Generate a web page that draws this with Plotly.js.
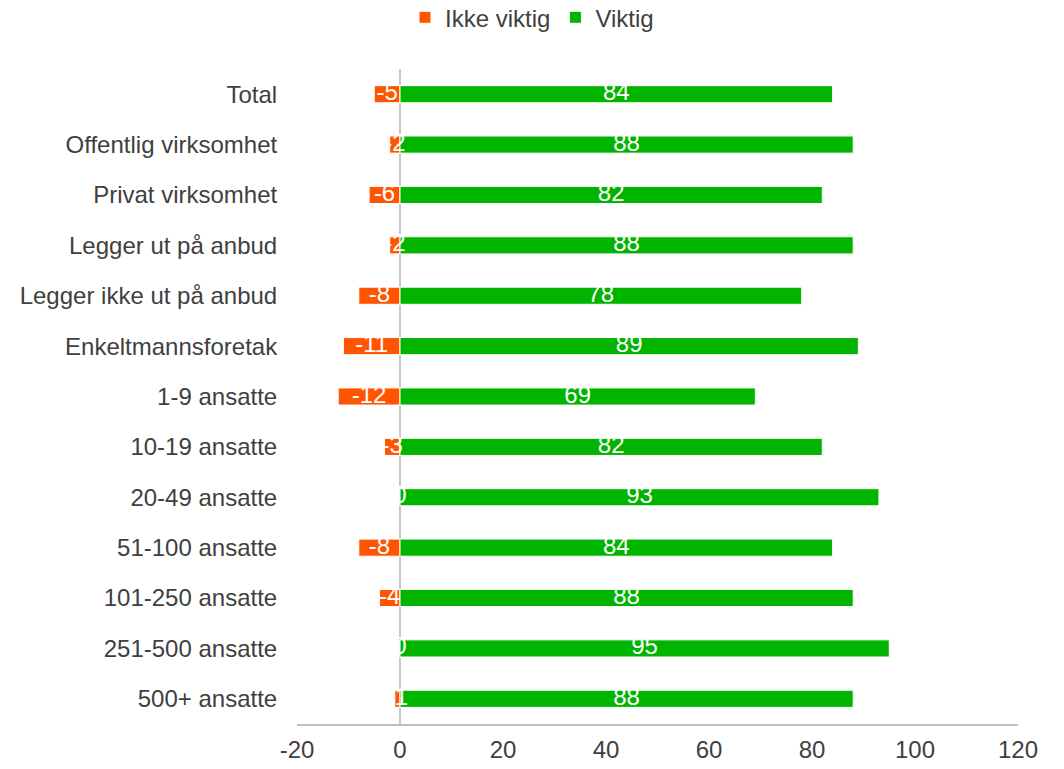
<!DOCTYPE html>
<html>
<head>
<meta charset="utf-8">
<script src="https://cdn.plot.ly/plotly-3.0.1.min.js"></script>
<style>html,body{margin:0;padding:0;background:#fff;}#chart{width:1064px;height:769px;}</style>
</head>
<body>
<div id="chart"></div>
<script>
const categories = ["Total","Offentlig virksomhet","Privat virksomhet","Legger ut på anbud","Legger ikke ut på anbud","Enkeltmannsforetak","1-9 ansatte","10-19 ansatte","20-49 ansatte","51-100 ansatte","101-250 ansatte","251-500 ansatte","500+ ansatte"];
const ikkeViktig = [-5,-2,-6,-2,-8,-11,-12,-3,0,-8,-4,0,-1];
const viktig = [84,88,82,88,78,89,69,82,93,84,88,95,88];
const xTicks = [-20,0,20,40,60,80,100,120];

const font = "Liberation Sans, Arial, sans-serif";
const orange = "#FF5500";
const green = "#00B400";
const fs = 24;

const traces = [
  {type:"bar", orientation:"h", name:"Ikke viktig", y:categories, x:ikkeViktig,
   marker:{color:orange, line:{color:"#ffffff", width:1}}, textposition:"none", hoverinfo:"x+y"},
  {type:"bar", orientation:"h", name:"Viktig", y:categories, x:viktig,
   marker:{color:green, line:{color:"#ffffff", width:1}}, textposition:"none", hoverinfo:"x+y"},
  {type:"scatter", mode:"text", showlegend:false, y:categories, x:ikkeViktig.map(v=>v/2),
   text:ikkeViktig.map(String), textposition:"middle center", textfont:{color:"#ffffff", size:fs, family:font}, hoverinfo:"skip", cliponaxis:false},
  {type:"scatter", mode:"text", showlegend:false, y:categories, x:viktig.map(v=>v/2),
   text:viktig.map(String), textposition:"middle center", textfont:{color:"#ffffff", size:fs, family:font}, hoverinfo:"skip", cliponaxis:false}
];

const layout = {
  width:1064, height:769,
  margin:{l:297, r:46, t:69, b:45},
  paper_bgcolor:"#ffffff", plot_bgcolor:"#ffffff",
  font:{family:font, size:fs, color:"#404040"},
  barmode:"relative",
  bargap:0.66,
  showlegend:true,
  legend:{orientation:"h", x:0.5, xanchor:"center", xref:"container", y:0.977, yanchor:"middle", yref:"container",
    font:{size:fs, color:"#404040"}, traceorder:"normal", itemwidth:30, tracegroupgap:0},
  xaxis:{range:[-20,120], tickvals:xTicks, ticktext:xTicks.map(String), showgrid:false,
    zeroline:true, zerolinecolor:"#c8c8c8", zerolinewidth:2,
    showline:true, linecolor:"#c0c0c0", linewidth:2, automargin:false,
    ticks:"outside", ticklen:3, tickcolor:"rgba(0,0,0,0)", tickfont:{size:fs, color:"#404040"}, fixedrange:true},
  yaxis:{categoryorder:"array", categoryarray:categories, range:[12.5,-0.5], autorange:false, showgrid:false, zeroline:false, showline:false,
    automargin:false, ticks:"outside", ticklen:14, tickcolor:"rgba(0,0,0,0)", tickfont:{size:fs, color:"#404040"}, fixedrange:true}
};

Plotly.newPlot("chart", traces, layout, {displayModeBar:false, staticPlot:true});
</script>
</body>
</html>
